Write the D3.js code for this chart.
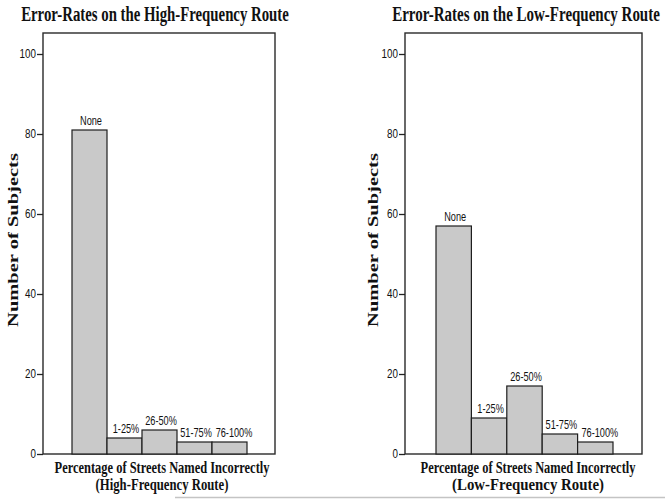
<!DOCTYPE html>
<html>
<head>
<meta charset="utf-8">
<script src="https://cdn.jsdelivr.net/npm/d3@7"></script>
<style>
  body { margin: 0; background: #fff; }
  svg { display: block; }
  .tick text { font-family: "Liberation Sans", Arial, sans-serif; font-size: 12px; fill: #111; }
  .tick line { stroke: #222; stroke-width: 1.3; }
</style>
</head>
<body>
<div id="main"></div>
<script>
const categories = ['None', '1-25%', '26-50%', '51-75%', '76-100%']
const highValues = [81, 4, 6, 3, 3]
const lowValues = [57, 9, 17, 5, 3]
const yTicks = [0, 20, 40, 60, 80, 100]
const titles = ['Error-Rates on the High-Frequency Route', 'Error-Rates on the Low-Frequency Route']
const xLabels = [['Percentage of Streets Named Incorrectly', '(High-Frequency Route)'],
                 ['Percentage of Streets Named Incorrectly', '(Low-Frequency Route)']]
const yLabel = 'Number of Subjects'

const WIDTH = 665, HEIGHT = 499
const serif = '"Liberation Serif", "Times New Roman", serif'
const sans = '"Liberation Sans", Arial, sans-serif'

const svg = d3.select('#main').append('svg').attr('width', WIDTH).attr('height', HEIGHT)

// the scan uses narrow faces: squeeze horizontally with a transform
// target > 1 means a width in px, otherwise a factor
function squeeze(el, x, y, target, rot) {
  const w = el.getComputedTextLength()
  const k = target > 1 ? target / w : target
  d3.select(el).attr('x', 0).attr('y', 0)
    .attr('transform', 'translate(' + x + ',' + y + ')' + (rot ? ' rotate(' + rot + ')' : '') + ' scale(' + k + ',1)')
}

// faint page edge at the bottom of the scan
svg.append('line').attr('x1', 175).attr('x2', WIDTH).attr('y1', 497.5).attr('y2', 497.5)
  .attr('stroke', '#c4c4c4').attr('stroke-width', 1.5)

const panels = [
  { values: highValues, box: [43, 275], bars: [72, 247], yLab: 18, title: 155, xLab: 162 },
  { values: lowValues, box: [405, 642], bars: [436, 613], yLab: 378, title: 526, xLab: 528 }
]

const y = d3.scaleLinear().domain([0, 100]).range([454, 54])
const boxTop = 33

panels.forEach(function (p, i) {
  const g = svg.append('g')
  const x = d3.scaleBand().domain(categories).range(p.bars).paddingInner(0).paddingOuter(0)

  // frame
  g.append('rect').attr('x', p.box[0]).attr('y', boxTop)
    .attr('width', p.box[1] - p.box[0]).attr('height', y(0) - boxTop)
    .attr('fill', 'none').attr('stroke', '#2a2a2a').attr('stroke-width', 1.4)

  // y axis ticks
  const ax = g.append('g').attr('transform', 'translate(' + p.box[0] + ',0)')
    .call(d3.axisLeft(y).tickValues(yTicks).tickSize(6).tickPadding(1))
  ax.select('.domain').remove()
  ax.selectAll('.tick text').each(function () { squeeze(this, -7, 0, 0.82) })

  // bars
  g.selectAll('rect.bar').data(p.values).join('rect').attr('class', 'bar')
    .attr('x', (d, j) => x(categories[j]))
    .attr('y', d => y(d))
    .attr('width', x.bandwidth())
    .attr('height', d => y(0) - y(d))
    .attr('fill', '#c9c9c9').attr('stroke', '#1e1e1e').attr('stroke-width', 1.2)

  g.selectAll('text.lab').data(p.values).join('text').attr('class', 'lab')
    .attr('text-anchor', 'middle')
    .style('font-family', sans).style('font-size', '13.5px').attr('fill', '#111')
    .text((d, j) => categories[j])
    .each(function (d, j) {
      squeeze(this, x(categories[j]) + x.bandwidth() / 2 + (j === 4 ? 4.5 : 1.5), y(d) - 5, 0.68)
    })

  // title
  g.append('text').attr('text-anchor', 'middle')
    .style('font-family', serif).style('font-weight', 'bold').style('font-size', '20px')
    .attr('fill', '#111').text(titles[i])
    .each(function () { squeeze(this, p.title, 21, 268) })

  // x labels
  g.append('text').attr('text-anchor', 'middle')
    .style('font-family', serif).style('font-weight', 'bold').style('font-size', '16px')
    .attr('fill', '#111').text(xLabels[i][0])
    .each(function () { squeeze(this, p.xLab, 473, 215) })
  g.append('text').attr('text-anchor', 'middle')
    .style('font-family', serif).style('font-weight', 'bold').style('font-size', '16px')
    .attr('fill', '#111').text(xLabels[i][1])
    .each(function () { squeeze(this, p.xLab, 489.5, i === 0 ? 133 : 152) })

  // y label
  g.append('text').attr('text-anchor', 'middle')
    .style('font-family', serif).style('font-weight', 'bold').style('font-size', '15px')
    .attr('fill', '#111').text(yLabel)
    .each(function () { squeeze(this, p.yLab, 240, 174, -90) })
})
</script>
</body>
</html>
